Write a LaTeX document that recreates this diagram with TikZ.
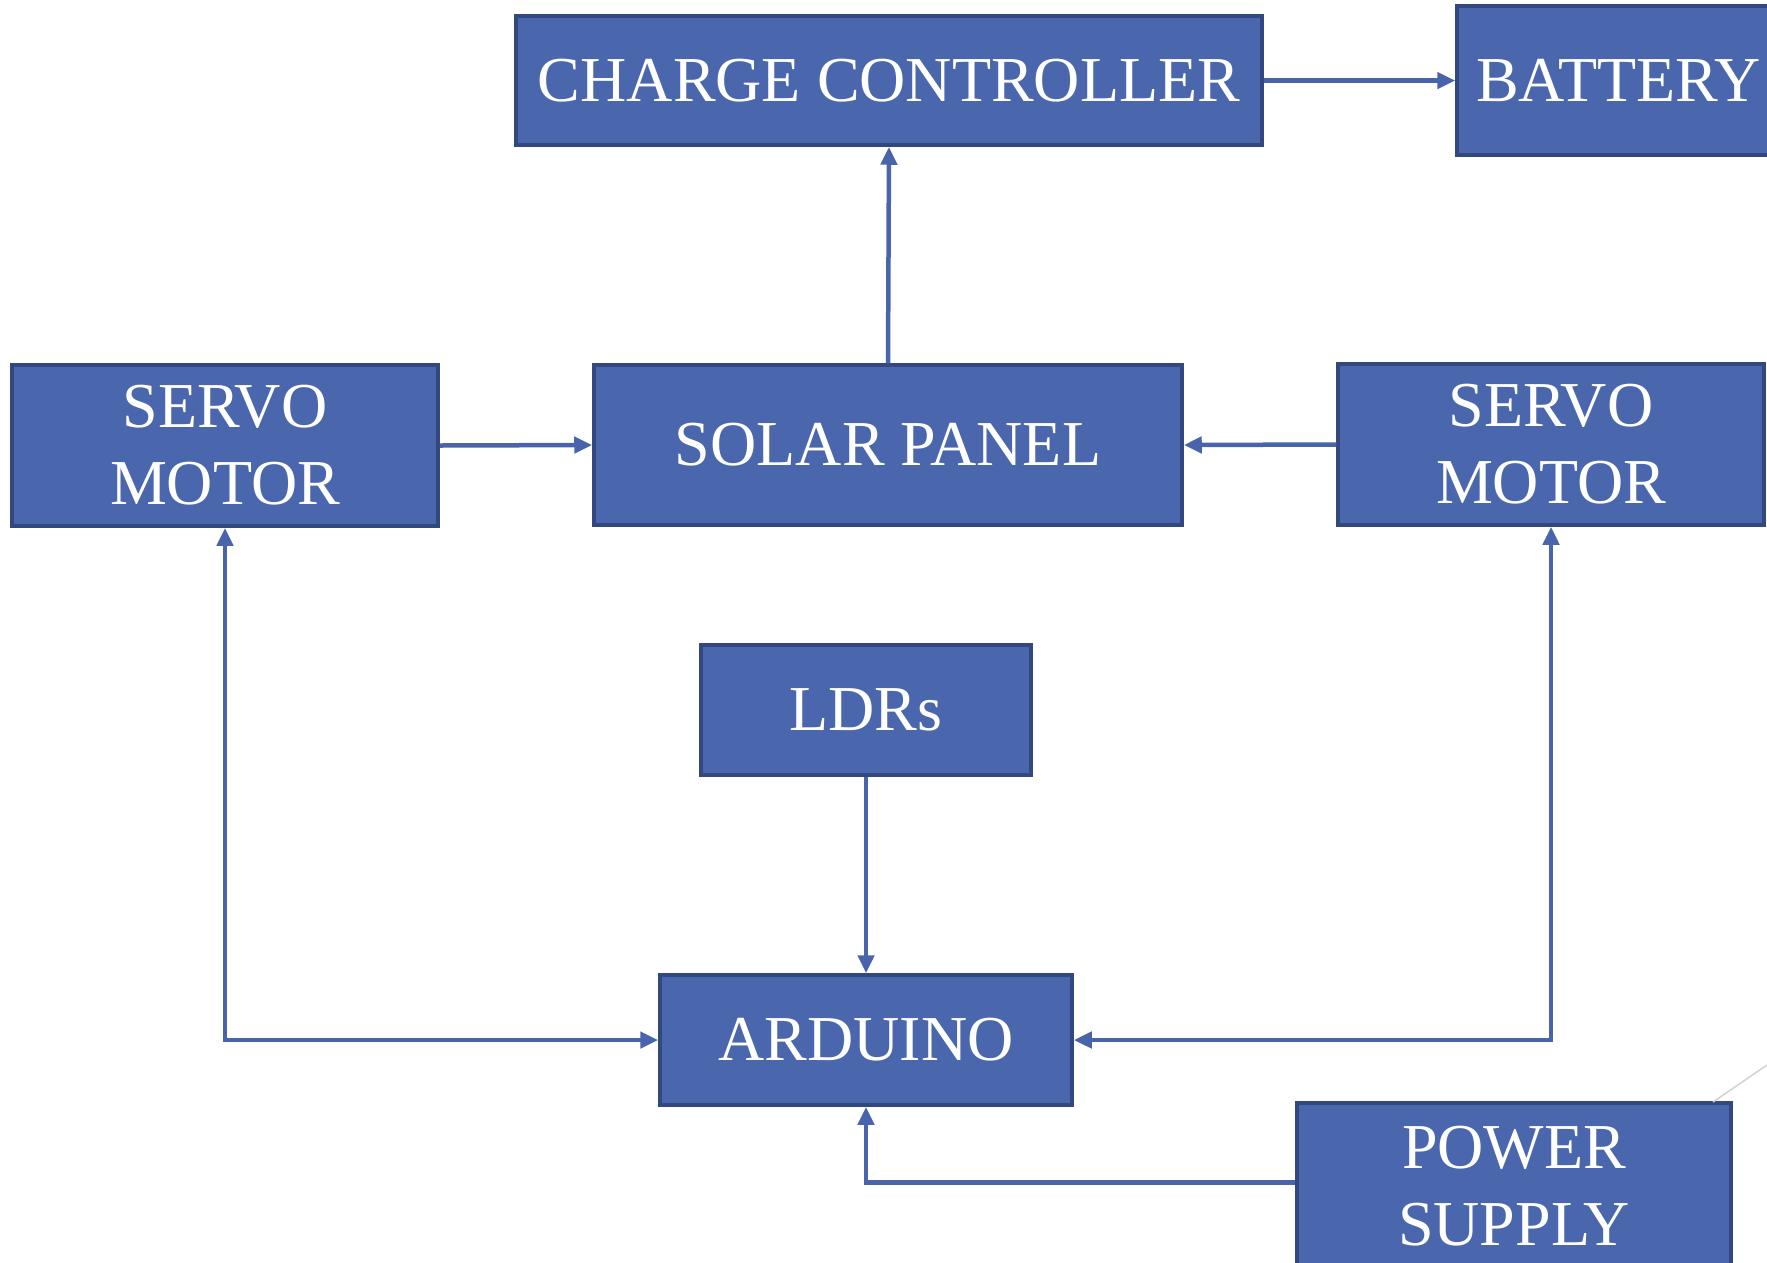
\documentclass[tikz,border=0pt]{standalone}
\usepackage{fontspec}
\setmainfont{Liberation Serif}
\usetikzlibrary{arrows.meta}
\definecolor{boxfill}{RGB}{74,103,173}
\definecolor{boxborder}{RGB}{50,72,126}
\definecolor{linecol}{RGB}{72,101,172}
\begin{document}
\begin{tikzpicture}[x=1pt,y=-1pt,
  blk/.style={draw=boxborder, fill=boxfill, line width=3.5pt, inner sep=0pt,
    text=white, align=center, font=\fontsize{64}{77}\selectfont},
  conn/.style={draw=linecol, line width=4.5pt,
    arrows={-Triangle[length=18pt,width=16pt]}},
  conn2/.style={draw=linecol, line width=4.5pt,
    arrows={Triangle[length=18pt,width=16pt]-Triangle[length=18pt,width=16pt]}}]
\useasboundingbox (0,0) rectangle (1767,1262);
\node[blk, minimum width=746pt, minimum height=129pt] (cc) at (889,80.5) {\raisebox{-2pt}{CHARGE CONTROLLER}};
\node[blk, minimum width=323pt, minimum height=149pt] (bat) at (1618.5,80.5) {\raisebox{-2pt}{BATTERY}};
\node[blk, minimum width=588pt, minimum height=160pt] (sp) at (888,445) {\raisebox{-2pt}{SOLAR PANEL}};
\node[blk, minimum width=426pt, minimum height=161pt] (sl) at (225,445.5) {SERVO\\MOTOR};
\node[blk, minimum width=426pt, minimum height=161pt] (sr) at (1551,444.5) {SERVO\\MOTOR};
\node[blk, minimum width=330pt, minimum height=130pt] (ldr) at (866,710) {\raisebox{-2pt}{LDRs}};
\node[blk, minimum width=412pt, minimum height=130pt] (ard) at (866,1040) {\raisebox{-2pt}{ARDUINO}};
\node[blk, minimum width=434pt, minimum height=167pt] (ps) at (1514,1186.5) {POWER\\SUPPLY};
\coordinate (g1) at (1713,1102);
\coordinate (g2) at (1767,1065);
\draw[gray!35, line width=1.5pt] (g1) -- (g2);
\draw[conn] (cc.east) -- (bat.west);
\draw[conn] (sp.north) -- (cc.south);
\draw[conn] (sl.east) -- (sp.west);
\draw[conn] (sr.west) -- (sp.east);
\draw[conn] (ldr.south) -- (ard.north);
\draw[conn2] (sl.south) |- (ard.west);
\draw[conn2] (sr.south) |- (ard.east);
\draw[conn] ([yshift=4pt]ps.west) -| (ard.south);
\end{tikzpicture}
\end{document}
